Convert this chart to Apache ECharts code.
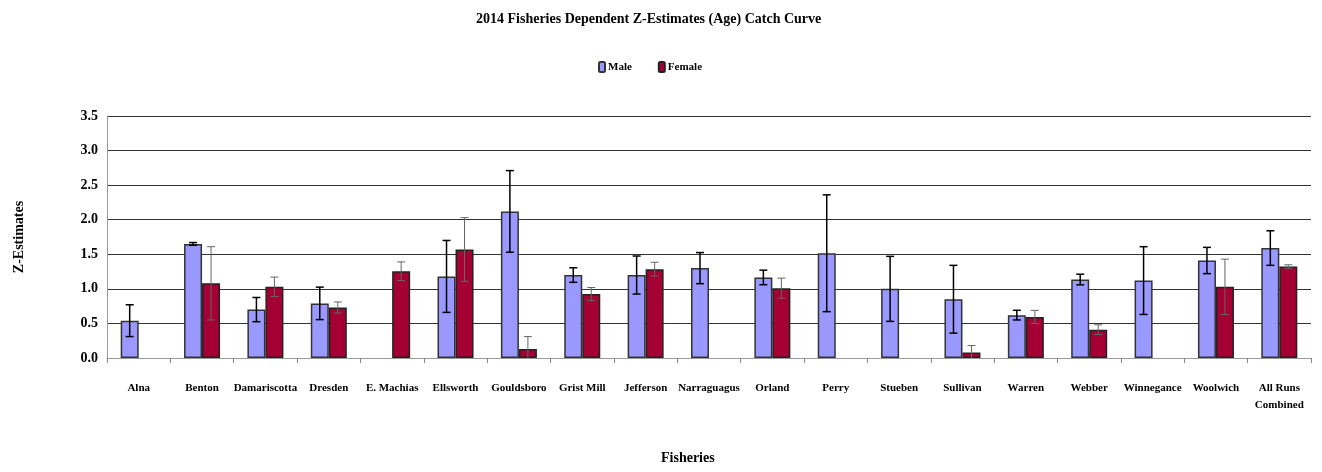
<!DOCTYPE html>
<html><head><meta charset="utf-8">
<script src="https://cdn.jsdelivr.net/npm/echarts@6/dist/echarts.min.js"></script>
<style>html,body{margin:0;padding:0;background:#fff}#c{width:1322px;height:472px}</style>
</head><body><div id="c"></div>
<script>
const categories = ['Alna','Benton','Damariscotta','Dresden','E. Machias','Ellsworth','Gouldsboro','Grist Mill','Jefferson','Narraguagus','Orland','Perry','Stueben','Sullivan','Warren','Webber','Winnegance','Woolwich','All Runs\nCombined'];
const maleZ   = [0.54, 1.65, 0.70, 0.79, null, 1.18, 2.12, 1.20, 1.20, 1.30, 1.165, 1.515, 1.00, 0.85, 0.62, 1.135, 1.12, 1.41, 1.59];
const maleErr = [0.23, 0.02, 0.175, 0.235, null, 0.52, 0.59, 0.105, 0.275, 0.225, 0.105, 0.845, 0.47, 0.49, 0.07, 0.077, 0.49, 0.19, 0.25];
const femaleZ   = [null, 1.08, 1.03, 0.73, 1.255, 1.57, 0.13, 0.925, 1.285, null, 1.01, null, null, 0.08, 0.594, 0.41, null, 1.03, 1.323];
const femaleErr = [null, 0.53, 0.14, 0.08, 0.135, 0.46, 0.18, 0.095, 0.10, null, 0.145, null, null, 0.10, 0.095, 0.07, null, 0.40, 0.025];
const yTicks = ['0.0','0.5','1.0','1.5','2.0','2.5','3.0','3.5'];

const BW = 18;
const serif = '"Liberation Serif","Times New Roman",serif';

function errSeries(vals, errs, side, color, lw) {
  const data = vals.map((v, i) => v == null ? null : [i, v, errs[i]]).filter(d => d);
  return {
    type: 'custom', z: 10, clip: true,
    data: data,
    renderItem: function (params, api) {
      const i = api.value(0), v = api.value(1), e = api.value(2);
      const hi = api.coord([i, v + e]);
      const lo = api.coord([i, v - e]);
      const x = hi[0] + side * BW / 2;
      const cap = 4;
      const st = { stroke: color, lineWidth: lw };
      return { type: 'group', children: [
        { type: 'line', shape: { x1: x, y1: hi[1], x2: x, y2: lo[1] }, style: st },
        { type: 'line', shape: { x1: x - cap, y1: hi[1], x2: x + cap, y2: hi[1] }, style: st },
        { type: 'line', shape: { x1: x - cap, y1: lo[1], x2: x + cap, y2: lo[1] }, style: st }
      ]};
    }
  };
}

const chart = echarts.init(document.getElementById('c'));
chart.setOption({
  animation: false,
  backgroundColor: '#fff',
  title: {
    text: '2014 Fisheries Dependent Z-Estimates (Age) Catch Curve',
    left: 471, top: 7,
    textStyle: { fontFamily: serif, fontWeight: 'bold', fontSize: 14, color: '#000' }
  },
  legend: {
    top: 56, left: 593, itemWidth: 6, itemHeight: 10, itemGap: 26,
    data: ['Male', 'Female'],
    textStyle: { fontFamily: serif, fontWeight: 'bold', fontSize: 11, color: '#000', padding: [0,0,0,-2] }
  },
  grid: { left: 107, right: 11, top: 116, bottom: 114 },
  xAxis: {
    type: 'category', data: categories,
    axisLine: { lineStyle: { color: '#999', width: 1 } },
    axisTick: { show: true, alignWithLabel: false, length: 5, lineStyle: { color: '#888' } },
    axisLabel: { interval: 0, margin: 22, fontFamily: serif, fontWeight: 'bold', fontSize: 11, color: '#000', lineHeight: 17 }
  },
  yAxis: {
    type: 'value', min: 0, max: 3.5, interval: 0.5,
    axisLine: { show: true, lineStyle: { color: '#999' } },
    axisTick: { show: false },
    splitLine: { lineStyle: { color: '#333', width: 1 } },
    axisLabel: { formatter: (v) => yTicks[Math.round(v / 0.5)], fontFamily: serif, fontWeight: 'bold', fontSize: 14, color: '#000', margin: 9 },
    name: 'Z-Estimates', nameLocation: 'middle', nameGap: 81, nameRotate: 90,
    nameTextStyle: { fontFamily: serif, fontWeight: 'bold', fontSize: 14, color: '#000' }
  },
  graphic: [{
    type: 'text', left: 661, top: 451,
    style: { text: 'Fisheries', font: 'bold 14px ' + serif, fill: '#000' }
  }],
  series: [
    { name: 'Male', type: 'bar', data: maleZ, barWidth: BW, barGap: '0%',
      itemStyle: { color: '#9999FF', borderColor: '#333', borderWidth: 1.5 } },
    { name: 'Female', type: 'bar', data: femaleZ, barWidth: BW, barGap: '0%',
      itemStyle: { color: '#A50034', borderColor: '#222', borderWidth: 1.5 } },
    errSeries(maleZ, maleErr, -1, '#000', 1.5),
    errSeries(femaleZ, femaleErr, 1, '#666', 1)
  ]
});
</script></body></html>
